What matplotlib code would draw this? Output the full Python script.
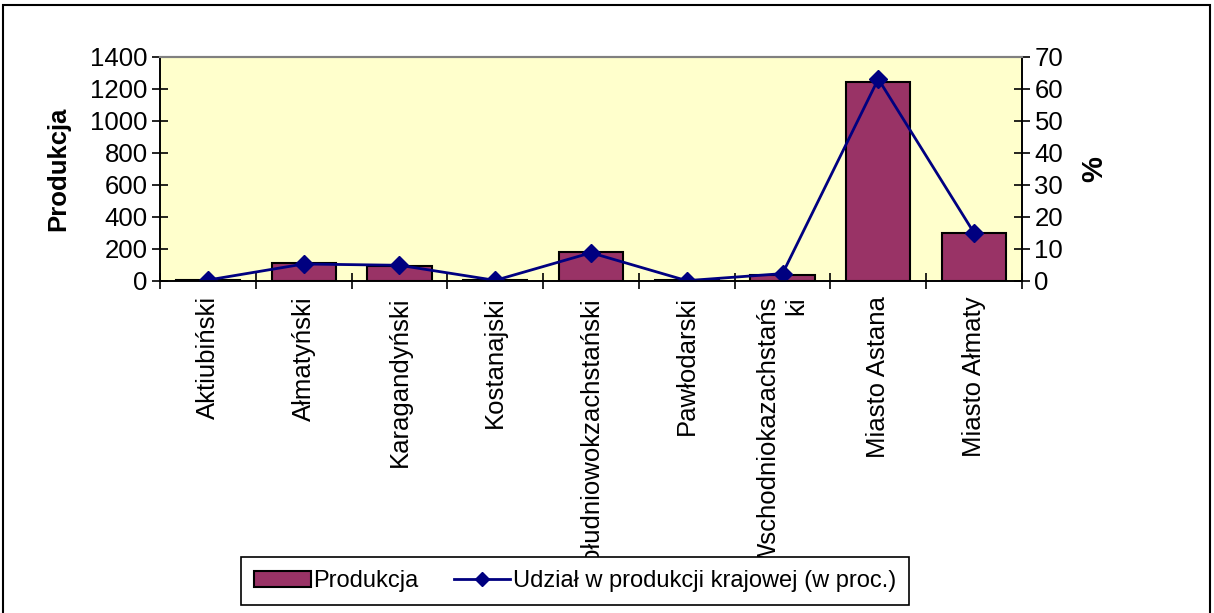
import numpy as np
import matplotlib.pyplot as plt
from matplotlib.patches import Rectangle

plt.rcParams['font.family'] = ['Liberation Sans', 'DejaVu Sans']

# regions, production and share of national production (%)
regions = ["Aktiubiński", "Ałmatyński", "Karagandyński", "Kostanajski",
           "Południowokzachstański", "Pawłodarski", "Wschodniokazachstańs\nki",
           "Miasto Astana", "Miasto Ałmaty"]
produkcja = [6, 110, 95, 5, 182, 4, 39, 1240, 297]
udzial = [0.3, 5.3, 4.9, 0.2, 8.8, 0.1, 2.3, 63.0, 15.0]

index = np.arange(len(regions))

fig = plt.figure(figsize=(12.14, 6.13), dpi=100)
ax = fig.add_axes([0.1318, 0.5416, 0.710, 0.3662])
ax.set_facecolor("#FFFFCC")

bars = ax.bar(index, produkcja, 0.67, color="#993366", edgecolor="black", linewidth=1.5, label="Produkcja")
ax.set_xlim(-0.5, len(regions) - 0.5)
ax.set_ylim(0, 1400)
ax.set_yticks(range(0, 1401, 200))
ax.set_ylabel("Produkcja", fontsize=18.5, fontweight="bold", labelpad=14)

ax.set_xticks(index)
ax.set_xticklabels(regions, rotation=90, va="top", ha="center", multialignment="right")
ax.set_xticks(np.arange(-0.5, len(regions)), minor=True)
ax.tick_params(axis="x", which="major", length=0, pad=11, labelsize=18.5)
ax.tick_params(axis="x", which="minor", direction="inout", length=12, width=1.2)
ax.tick_params(axis="y", direction="inout", length=12, width=1.2, labelsize=18.5, pad=3)

ax2 = ax.twinx()
line, = ax2.plot(index, udzial, color="#000080", linewidth=2, marker="D", markersize=9, label="Udział w produkcji krajowej (w proc.)")
ax2.set_ylim(0, 70)
ax2.set_yticks(range(0, 71, 10))
ax2.tick_params(axis="y", direction="inout", length=12, width=1.2, labelsize=18.5, pad=3)
ax2.set_ylabel("%", fontsize=21, fontweight="bold", labelpad=12)

for a in (ax, ax2):
    for s in ["left", "right", "bottom"]:
        a.spines[s].set_color("black")
        a.spines[s].set_linewidth(1.2)
    a.spines["top"].set_color("#808080")
    a.spines["top"].set_linewidth(1.5)

leg = ax2.legend([bars, line], ["Produkcja", "Udział w produkcji krajowej (w proc.)"],
                 ncol=2, loc="center", bbox_to_anchor=(0.4736, 0.052), bbox_transform=fig.transFigure,
                 fontsize=17, frameon=True, fancybox=False, framealpha=1, edgecolor="black",
                 handlelength=2.4, handletextpad=0.1, columnspacing=1.5, borderpad=0.55)
leg.get_frame().set_linewidth(1.2)
leg.legend_handles[1].set_markersize(7)

# chart area border
fig.patches.append(Rectangle((3 / 1214, -0.01), 1207 / 1214, 1.01 - 5 / 613, transform=fig.transFigure,
                             fill=False, edgecolor="black", linewidth=1.5))

fig.savefig("out.png", dpi=100)
